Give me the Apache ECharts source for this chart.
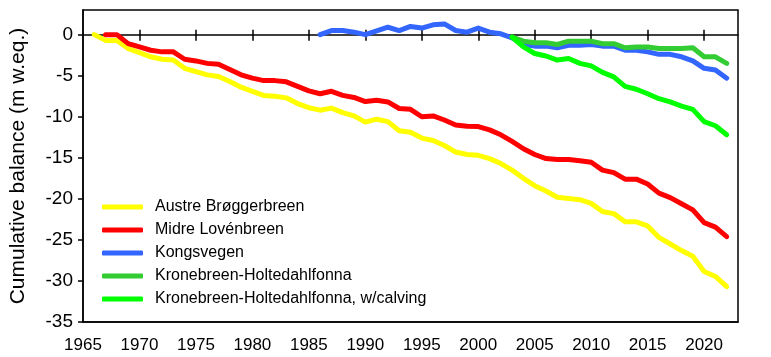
<!DOCTYPE html>
<html>
<head>
<meta charset="utf-8">
<script src="https://cdn.jsdelivr.net/npm/echarts@6/dist/echarts.min.js"></script>
<style>html,body{margin:0;padding:0;background:#fff;}#c{width:771px;height:357px;}</style>
</head>
<body>
<div id="c"></div>
<script>
const xTicks = [1965,1970,1975,1980,1985,1990,1995,2000,2005,2010,2015,2020];
const yTicks = [-35,-30,-25,-20,-15,-10,-5,0];

const austreYears = [];
for (let y = 1966; y <= 2022; y++) austreYears.push(y);
const austreValues = [0,-0.7,-0.7,-1.7,-2.2,-2.7,-3.0,-3.1,-4.1,-4.5,-4.9,-5.1,-5.7,-6.4,-6.9,-7.4,-7.5,-7.7,-8.4,-8.9,-9.2,-8.95,-9.5,-9.9,-10.65,-10.3,-10.6,-11.7,-11.9,-12.6,-12.9,-13.5,-14.3,-14.6,-14.7,-15.1,-15.7,-16.5,-17.5,-18.4,-19.05,-19.8,-19.95,-20.1,-20.55,-21.55,-21.8,-22.8,-22.8,-23.3,-24.7,-25.5,-26.3,-27.0,-28.85,-29.45,-30.7];

const midreYears = [];
for (let y = 1967; y <= 2022; y++) midreYears.push(y);
const midreValues = [0,0,-1.1,-1.5,-1.9,-2.1,-2.1,-3.0,-3.2,-3.5,-3.6,-4.25,-4.9,-5.3,-5.6,-5.6,-5.75,-6.3,-6.85,-7.2,-6.9,-7.4,-7.65,-8.15,-8.0,-8.2,-9.0,-9.1,-10.0,-9.9,-10.4,-11.0,-11.15,-11.2,-11.6,-12.2,-13.0,-13.9,-14.6,-15.1,-15.2,-15.2,-15.35,-15.55,-16.5,-16.8,-17.6,-17.6,-18.2,-19.3,-19.85,-20.6,-21.35,-22.9,-23.45,-24.6];

const kongsYears = [];
for (let y = 1986; y <= 2022; y++) kongsYears.push(y);
const kongsValues = [0,0.5,0.5,0.3,0.0,0.45,0.9,0.5,1.0,0.8,1.2,1.3,0.5,0.3,0.8,0.3,0.1,-0.4,-1.2,-1.4,-1.4,-1.6,-1.3,-1.3,-1.2,-1.4,-1.4,-1.9,-1.9,-2.1,-2.4,-2.4,-2.7,-3.2,-4.1,-4.3,-5.3];

const kroneYears = [];
for (let y = 2003; y <= 2022; y++) kroneYears.push(y);
const kroneValues = [-0.3,-0.8,-1.0,-1.0,-1.2,-0.8,-0.8,-0.8,-1.1,-1.1,-1.6,-1.5,-1.5,-1.7,-1.7,-1.7,-1.6,-2.7,-2.7,-3.5];
const kroneCalvValues = [-0.3,-1.5,-2.3,-2.6,-3.1,-2.9,-3.5,-3.8,-4.6,-5.15,-6.3,-6.65,-7.2,-7.8,-8.2,-8.7,-9.1,-10.6,-11.1,-12.2];

const seriesNames = ['Austre Brøggerbreen','Midre Lovénbreen','Kongsvegen','Kronebreen-Holtedahlfonna','Kronebreen-Holtedahlfonna, w/calving'];
const seriesColors = ['#FFFF00','#FF0000','#3366FF','#33CC33','#00FF00'];

function pairs(xs, vs){ return xs.map((x,i)=>[x, vs[i]]); }
const allData = [
  pairs(austreYears, austreValues),
  pairs(midreYears, midreValues),
  pairs(kongsYears, kongsValues),
  pairs(kroneYears, kroneValues),
  pairs(kroneYears, kroneCalvValues)
];

const FONT = 'Liberation Sans, Arial, sans-serif';
const chart = echarts.init(document.getElementById('c'), null, {renderer:'canvas'});
chart.setOption({
  animation: false,
  grid: {left: 82, right: 33, top: 10, bottom: 35, show: true, borderColor: '#000', borderWidth: 1.5, backgroundColor: 'transparent'},
  legend: {
    orient: 'vertical', left: 102, top: 198, padding: 0,
    itemWidth: 41, itemHeight: 5, itemGap: 5, icon: 'roundRect',
    textStyle: {fontFamily: FONT, fontSize: 16, color: '#000', lineHeight: 18, padding: [0,0,0,7]},
    data: seriesNames
  },
  xAxis: [
    {type: 'value', min: 1965, max: 2023, interval: 5, position: 'bottom',
     axisLine: {show: true, onZero: false, lineStyle: {color: '#000', width: 1.5}},
     axisTick: {show: false}, splitLine: {show: false},
     axisLabel: {customValues: xTicks, formatter: v => String(v), fontFamily: FONT, fontSize: 17, color: '#000', margin: 15}},
    {type: 'value', min: 1965, max: 2023, interval: 5, position: 'bottom',
     axisLine: {show: true, onZero: true, onZeroAxisIndex: 0, lineStyle: {color: '#000', width: 1.5}},
     axisTick: {show: true, inside: true, length: 5, customValues: xTicks.slice(1), lineStyle: {color: '#000', width: 1.5}},
     axisLabel: {show: false}, splitLine: {show: false}},
    {type: 'value', min: 1965, max: 2023, interval: 5, position: 'bottom',
     axisLine: {show: false, onZero: true, onZeroAxisIndex: 0},
     axisTick: {show: true, inside: false, length: 6, customValues: xTicks.slice(1), lineStyle: {color: '#000', width: 1.5}},
     axisLabel: {show: false}, splitLine: {show: false}}
  ],
  yAxis: {
    type: 'value', min: -35, max: 3, interval: 5,
    name: 'Cumulative balance (m w.eq.)', nameLocation: 'middle', nameRotate: 90, nameGap: 54,
    nameTextStyle: {fontFamily: FONT, fontSize: 21, color: '#000'},
    axisLine: {show: true, onZero: false, lineStyle: {color: '#000', width: 1.5}},
    axisTick: {show: true, inside: false, length: 5, customValues: yTicks, lineStyle: {color: '#000', width: 1.5}},
    axisLabel: {customValues: yTicks, fontFamily: FONT, fontSize: 19, color: '#000', margin: 10},
    splitLine: {show: false}
  },
  series: seriesNames.map((n, i) => ({
    name: n, type: 'line', data: allData[i], xAxisIndex: 0,
    showSymbol: false, symbol: 'none', color: seriesColors[i],
    lineStyle: {width: 5, color: seriesColors[i], cap: 'round', join: 'round'},
    itemStyle: {color: seriesColors[i]}
  }))
});
</script>
</body>
</html>
